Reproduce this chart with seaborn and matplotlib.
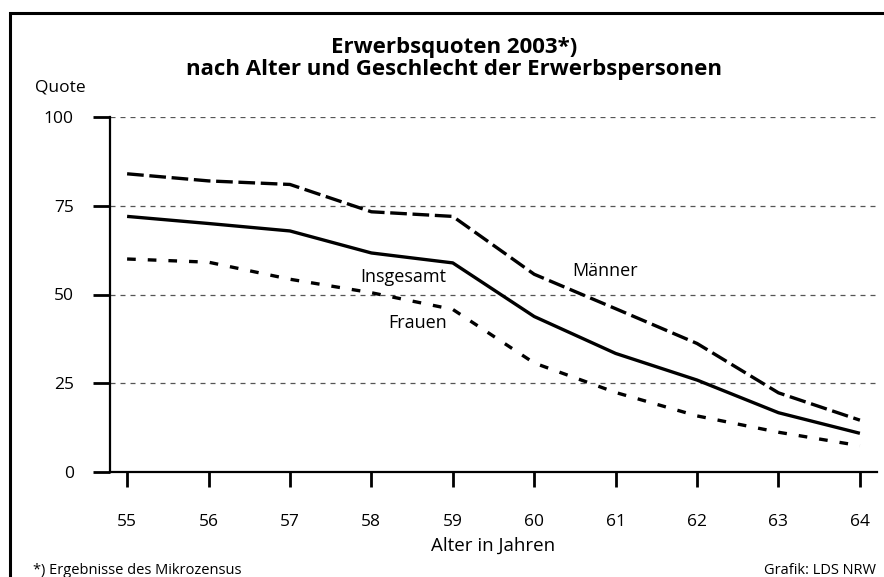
import matplotlib
matplotlib.use("Agg")
import matplotlib.pyplot as plt
import seaborn as sns
import pandas as pd
from matplotlib.patches import Rectangle

# ---- data ----
alter = [55, 56, 57, 58, 59, 60, 61, 62, 63, 64]
maenner = [84, 82, 81, 73.3, 72, 55.7, 46, 36.2, 22.3, 14.6]
insgesamt = [72, 70, 67.9, 61.7, 58.9, 43.8, 33.4, 25.9, 16.7, 10.9]
frauen = [60, 59.1, 54.3, 50.5, 45.8, 30.7, 22.4, 15.8, 11.2, 7.4]
yticks = [0, 25, 50, 75, 100]

sns.set_theme(style="white")
plt.rcParams['font.family'] = ['Open Sans', 'DejaVu Sans']
plt.rcParams.update({"text.color": "black", "axes.labelcolor": "black",
                     "xtick.color": "black", "ytick.color": "black"})

W, H = 884, 577
fig = plt.figure(figsize=(W / 100, H / 100), dpi=100)
fig.patch.set_facecolor("white")

# axes: spine at x=110, right end 877, y=100 at 117, y=0 at 472
ax = fig.add_axes([110 / W, 1 - 472 / H, (877 - 110) / W, (472 - 117) / H])
ax.set_facecolor("white")

df = pd.DataFrame({"alter": alter * 3,
                   "quote": maenner + insgesamt + frauen,
                   "gruppe": ["Männer"] * 10 + ["Insgesamt"] * 10 + ["Frauen"] * 10})

sns.lineplot(data=df, x="alter", y="quote", style="gruppe",
             style_order=["Männer", "Insgesamt", "Frauen"],
             dashes={"Männer": (5, 1.7), "Insgesamt": "", "Frauen": (2.6, 3.6)},
             color="black", linewidth=2.4, legend=False, ax=ax, zorder=3)
for ln in ax.lines:
    ln.set_dash_capstyle("butt")
    ln.set_solid_capstyle("butt")

# gridlines
for yv in yticks[1:]:
    ax.axhline(yv, color="#555555", lw=0.9, ls=(0, (4, 4)), zorder=1)

ax.set_xlim(54.79, 64.21)
ax.set_ylim(0, 100)
ax.set_yticks(yticks)
ax.set_xticks(alter)
ax.set_xticklabels([str(a) for a in alter])
ax.set_xlabel("Alter in Jahren", fontsize=13.5, labelpad=5, color="black")
ax.set_ylabel("")

for s in ["top", "right"]:
    ax.spines[s].set_visible(False)
for s in ["left", "bottom"]:
    ax.spines[s].set_color("black")
    ax.spines[s].set_linewidth(1.6)

ax.tick_params(axis="y", direction="out", length=12, width=2, color="black",
               labelcolor="black", labelsize=12.5, pad=14, left=True)
ax.tick_params(axis="x", direction="out", length=11, width=2, color="black",
               labelcolor="black", labelsize=12.5, pad=19, bottom=True)

# series labels
ax.text(58.92, 54.9, "Insgesamt", ha="right", va="center", fontsize=13, color="black")
ax.text(58.93, 42.0, "Frauen", ha="right", va="center", fontsize=13, color="black")
ax.text(60.47, 56.6, "Männer", ha="left", va="center", fontsize=13, color="black")

# titles and texts in figure pixel coords
def ftext(x, y, s, **kw):
    fig.text(x / W, 1 - y / H, s, color="black", **kw)

ftext(454, 47, "Erwerbsquoten 2003*)", ha="center", va="center",
      fontsize=16, fontweight="bold")
ftext(454, 70, "nach Alter und Geschlecht der Erwerbspersonen", ha="center",
      va="center", fontsize=16, fontweight="bold")
ftext(35, 87, "Quote", ha="left", va="center", fontsize=12.5)
ftext(33, 571, "*) Ergebnisse des Mikrozensus", ha="left", va="center", fontsize=10.5)
ftext(876, 571, "Grafik: LDS NRW", ha="right", va="center", fontsize=10.5)

# outer frame (cut at right and bottom)
fig.patches.append(Rectangle((10 / W, -0.1), 1.2, 1.1 - 13 / H,
                             transform=fig.transFigure, fill=False,
                             edgecolor="black", linewidth=2.2))

fig.savefig("out.png", dpi=100)
